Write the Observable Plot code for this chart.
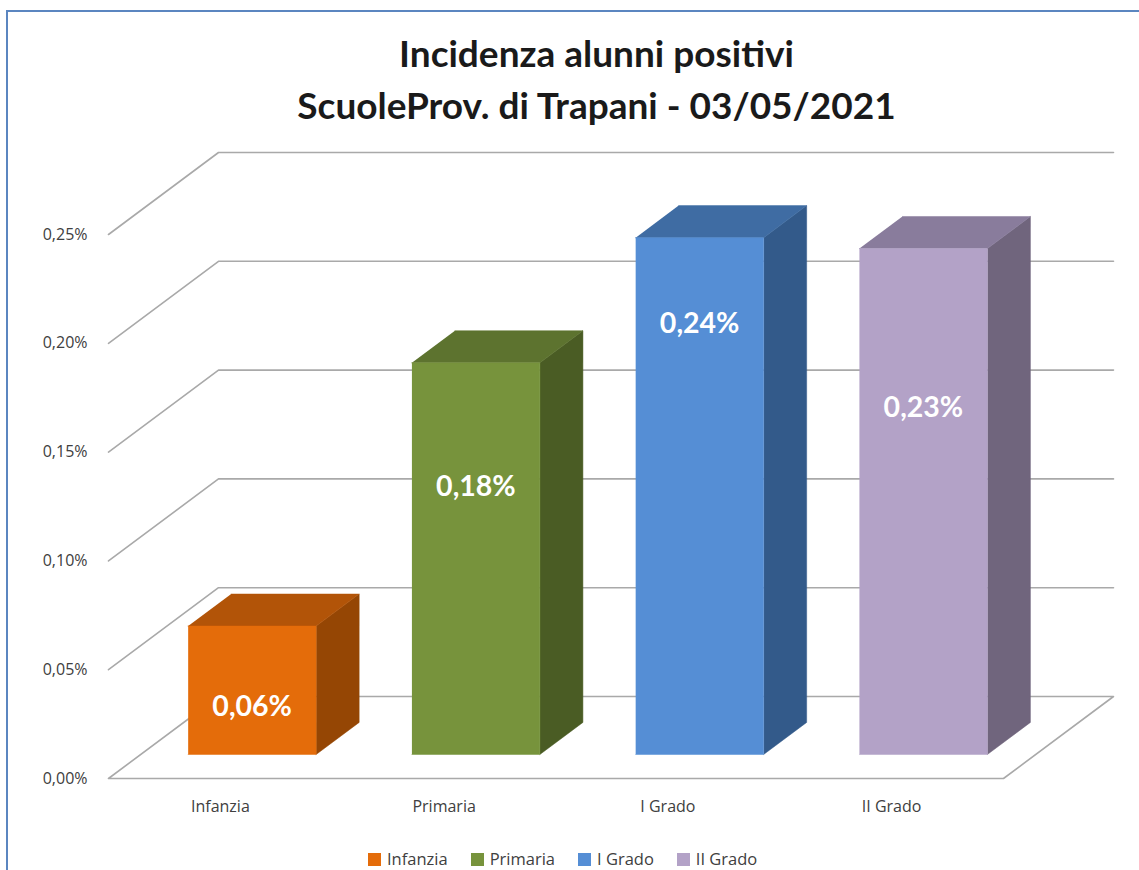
<!DOCTYPE html>
<html lang="it">
<head>
<meta charset="utf-8">
<script src="https://cdn.jsdelivr.net/npm/d3@7"></script>
<script src="https://cdn.jsdelivr.net/npm/@observablehq/plot@0.6"></script>
<style>
  html, body { margin: 0; padding: 0; width: 1139px; height: 870px; overflow: hidden; background: #fff; }
  #frame { position: absolute; left: 6px; top: 10px; width: 1133px; height: 860px; border-left: 2px solid #5b86c0; border-top: 2px solid #5b86c0; box-sizing: border-box; }
  #title { position: absolute; left: 0; top: 27px; width: 1139px; padding-left: 54px; box-sizing: border-box; text-align: center; font: 700 37px/52px Lato, sans-serif; color: #1a1a1a; }
  #chart { position: absolute; left: 0; top: 140px; }
  #legend { position: absolute; left: 368px; top: 848px; display: flex; font: 16.5px/22px "Open Sans", sans-serif; color: #404040; }
  #legend span.item { display: flex; align-items: center; margin-right: 23px; white-space: nowrap; }
  #legend i { display: inline-block; width: 13px; height: 13px; margin-right: 6px; }
  svg text { font-family: "Open Sans", sans-serif; }
  svg g.bar-label text { font-family: Lato, sans-serif; }
</style>
</head>
<body>
<div id="frame"></div>
<div id="title">Incidenza alunni positivi<br>ScuoleProv. di Trapani - 03/05/2021</div>
<div id="chart"></div>
<div id="legend"></div>
<script>
// Data
const categories = ["Infanzia", "Primaria", "I Grado", "II Grado"];
const values = [0.059, 0.18, 0.2375, 0.2325];
const yTicks = [0, 0.05, 0.1, 0.15, 0.2, 0.25];
const frontColors = ["#e46c0a", "#77933c", "#558ed5", "#b3a2c7"];
const topColors = ["#b25408", "#5d732f", "#3f6ca3", "#897c9c"];
const sideColors = ["#954604", "#4a5c24", "#335a8a", "#70657d"];

// Oblique projection: depth d (0 front, 1 back) shifts along both axes, in data units
const DX = 110 / 223.75;
const DY = 0.25 * 82 / 544;
const pt = (cx, v, d) => ({x: cx + DX * d, y: v + DY * d});
const BAR_LEFT = 0.212, BAR_W = 0.572, D1 = 0.293, D2 = 0.684;
const labelShare = [0.367, 0.683, 0.834, 0.686];

const fmtPct = v => v.toFixed(2).replace(".", ",") + "%";

const faces = [];
categories.forEach((c, i) => {
  const a = i + BAR_LEFT, b = a + BAR_W, v = values[i];
  const add = (k, col, pts) => pts.forEach(p => faces.push({...p, face: c + k, col}));
  add("-side", sideColors[i], [pt(b, 0, D1), pt(b, 0, D2), pt(b, v, D2), pt(b, v, D1)]);
  add("-top", topColors[i], [pt(a, v, D1), pt(b, v, D1), pt(b, v, D2), pt(a, v, D2)]);
  add("-front", frontColors[i], [pt(a, 0, D1), pt(b, 0, D1), pt(b, v, D1), pt(a, v, D1)]);
});

const grid = [];
yTicks.forEach(t => {
  grid.push({...pt(0, t, 0), g: t}, {...pt(0, t, 1), g: t}, {...pt(4, t, 1), g: t});
  if (t === 0) grid.push({...pt(4, 0, 0), g: t}, {...pt(0, 0, 0), g: t});
});

const labels = categories.map((c, i) => ({
  ...pt(i + BAR_LEFT + BAR_W / 2, values[i] * labelShare[i], D1),
  text: fmtPct(values[i])
}));

const chart = Plot.plot({
  width: 1139,
  height: 700,
  marginLeft: 108,
  marginRight: 26,
  marginTop: 0,
  marginBottom: 62,
  style: {background: "transparent", overflow: "visible"},
  x: {type: "linear", domain: [0, 4 + DX], range: [108, 1113]},
  y: {type: "linear", domain: [0, 0.25], range: [638, 94]},
  marks: [
    Plot.line(grid, {x: "x", y: "y", z: "g", stroke: "#a9a9a9", strokeWidth: 1.6, curve: "linear"}),
    Plot.line(faces, {x: "x", y: "y", z: "face", fill: "col", stroke: "col", strokeWidth: 0.5, curve: "linear"}),
    Plot.text(labels, {x: "x", y: "y", text: "text", fill: "#fff", fontWeight: 700, fontSize: 28.5, textAnchor: "middle", className: "bar-label"}),
    Plot.axisY({ticks: yTicks, tickSize: 0, tickPadding: 21, label: null, tickFormat: fmtPct, fontSize: 16, fill: "#404040"}),
    Plot.axisX({ticks: categories.map((c, i) => i + 0.5), tickSize: 0, tickPadding: 22, label: null,
      tickFormat: v => categories[Math.floor(v)], fontSize: 16, fill: "#404040"})
  ]
});
document.getElementById("chart").append(chart);
chart.querySelectorAll('[aria-label="y-axis tick label"], [aria-label="x-axis tick label"]').forEach(g => g.setAttribute("font-size", 16));

const legend = document.getElementById("legend");
categories.forEach((c, i) => {
  const s = document.createElement("span");
  s.className = "item";
  s.innerHTML = `<i style="background:${frontColors[i]}"></i>${c}`;
  legend.append(s);
});
</script>
</body>
</html>
